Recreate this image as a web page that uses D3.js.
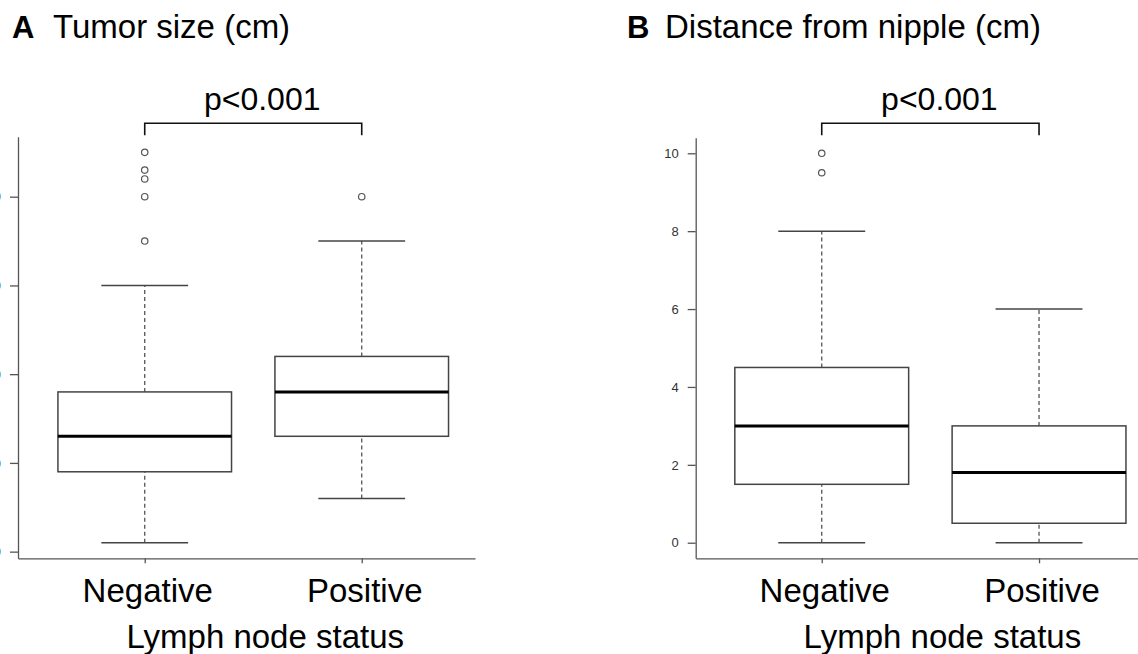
<!DOCTYPE html>
<html>
<head>
<meta charset="utf-8">
<script src="https://cdn.jsdelivr.net/npm/d3@7"></script>
<style>
  body { margin: 0; background: #fff; }
  text { font-family: "Liberation Sans", Arial, sans-serif; }
</style>
</head>
<body>
<svg id="fig" width="1138" height="654"></svg>
<script>
// groups on the x axis
var groups = ["Negative", "Positive"];

// A - tumor size (cm)
var tumorLow  = [0.1, 0.6];
var tumorQ1   = [0.9, 1.3];
var tumorMed  = [1.3, 1.8];
var tumorQ3   = [1.8, 2.2];
var tumorHigh = [3.0, 3.5];
var tumorOut  = [[4.5, 4.3, 4.2, 4.0, 3.5], [4.0]];
var tumorTicks = [0, 1, 2, 3, 4];

// B - distance from nipple (cm)
var distLow  = [0, 0];
var distQ1   = [1.5, 0.5];
var distMed  = [3.0, 1.8];
var distQ3   = [4.5, 3.0];
var distHigh = [8, 6];
var distOut  = [[10, 9.5], []];
var distTicks = [0, 2, 4, 6, 8, 10];

var svg = d3.select("#fig");

function drawPanel(p) {
  var x = d3.scaleLinear().domain(p.xDomain).range(p.xRange);
  var y = d3.scaleLinear().domain(p.yDomain).range([558.3, p.yTop]);
  var g = svg.append("g");

  // titles
  g.append("text").attr("x", p.letterX).attr("y", 38)
    .style("font-size", "31px").style("font-weight", "bold").text(p.letter);
  g.append("text").attr("x", p.titleX).attr("y", 38)
    .style("font-size", "33px").text(p.title);

  // y axis
  var yAx = g.append("g").attr("transform", "translate(" + p.xRange[0] + ",0)")
    .call(d3.axisLeft(y).tickValues(p.ticks).tickSize(8).tickPadding(9).tickSizeOuter(0));
  yAx.selectAll("path,line").attr("stroke", "#555").attr("stroke-width", 1.3);
  yAx.selectAll("text").style("font-size", "13px").attr("fill", p.tickColor)
    .style("font-family", "'Liberation Sans', Arial, sans-serif");

  // x axis
  var xAx = g.append("g").attr("transform", "translate(0,558.3)")
    .call(d3.axisBottom(x).tickValues([1, 2]).tickFormat("").tickSize(5).tickSizeOuter(0));
  xAx.selectAll("path,line").attr("stroke", "#555").attr("stroke-width", 1.3);

  groups.forEach(function(name, i) {
    g.append("text").attr("x", x(i + 1) + 3).attr("y", 602)
      .attr("text-anchor", "middle").style("font-size", "33px").text(name);
  });
  g.append("text").attr("x", (x(1) + x(2)) / 2 + 12).attr("y", 648)
    .attr("text-anchor", "middle").style("font-size", "33px").text("Lymph node status");

  // boxes
  groups.forEach(function(name, i) {
    var c = i + 1;
    var bg = g.append("g");
    // whiskers (dashed)
    [[p.low[i], p.q1[i]], [p.q3[i], p.high[i]]].forEach(function(w) {
      bg.append("line").attr("x1", x(c)).attr("x2", x(c))
        .attr("y1", y(w[0])).attr("y2", y(w[1]))
        .attr("stroke", "#555").attr("stroke-width", 1.3).attr("stroke-dasharray", "4,3");
    });
    // caps
    [p.low[i], p.high[i]].forEach(function(v) {
      bg.append("line").attr("x1", x(c - 0.2)).attr("x2", x(c + 0.2))
        .attr("y1", y(v)).attr("y2", y(v))
        .attr("stroke", "#444").attr("stroke-width", 1.5);
    });
    bg.append("rect").attr("x", x(c - 0.4)).attr("width", x(c + 0.4) - x(c - 0.4))
      .attr("y", y(p.q3[i])).attr("height", y(p.q1[i]) - y(p.q3[i]))
      .attr("fill", "#fff").attr("stroke", "#444").attr("stroke-width", 1.5);
    bg.append("line").attr("x1", x(c - 0.4)).attr("x2", x(c + 0.4))
      .attr("y1", y(p.med[i])).attr("y2", y(p.med[i]))
      .attr("stroke", "#000").attr("stroke-width", 3);
    bg.selectAll("circle").data(p.out[i]).enter().append("circle")
      .attr("cx", x(c)).attr("cy", function(d) { return y(d); }).attr("r", 3.2)
      .attr("fill", "none").attr("stroke", "#555").attr("stroke-width", 1.2);
  });

  // significance bracket
  var by = 123.3;
  g.append("path")
    .attr("d", "M" + x(1) + "," + (by + 12) + "V" + by + "H" + x(2) + "V" + (by + 12))
    .attr("fill", "none").attr("stroke", "#111").attr("stroke-width", 1.6);
  g.append("text").attr("x", (x(1) + x(2)) / 2 + 9).attr("y", 110)
    .attr("text-anchor", "middle").style("font-size", "32px").text("p<0.001");
}

drawPanel({
  letter: "A", title: "Tumor size (cm)", letterX: 12, titleX: 53,
  xDomain: [0.416, 2.522], xRange: [18, 475],
  yDomain: [-0.075, 4.675], yTop: 136.8, ticks: tumorTicks, tickColor: "#3d6a9e",
  low: tumorLow, q1: tumorQ1, med: tumorMed, q3: tumorQ3, high: tumorHigh, out: tumorOut
});

drawPanel({
  letter: "B", title: "Distance from nipple (cm)", letterX: 627, titleX: 665,
  xDomain: [0.42, 2.58], xRange: [695.7, 695.7 + 2.16 * 217.3],
  yDomain: [-0.4, 10.4], yTop: 137.7, ticks: distTicks, tickColor: "#333",
  low: distLow, q1: distQ1, med: distMed, q3: distQ3, high: distHigh, out: distOut
});
</script>
</body>
</html>
